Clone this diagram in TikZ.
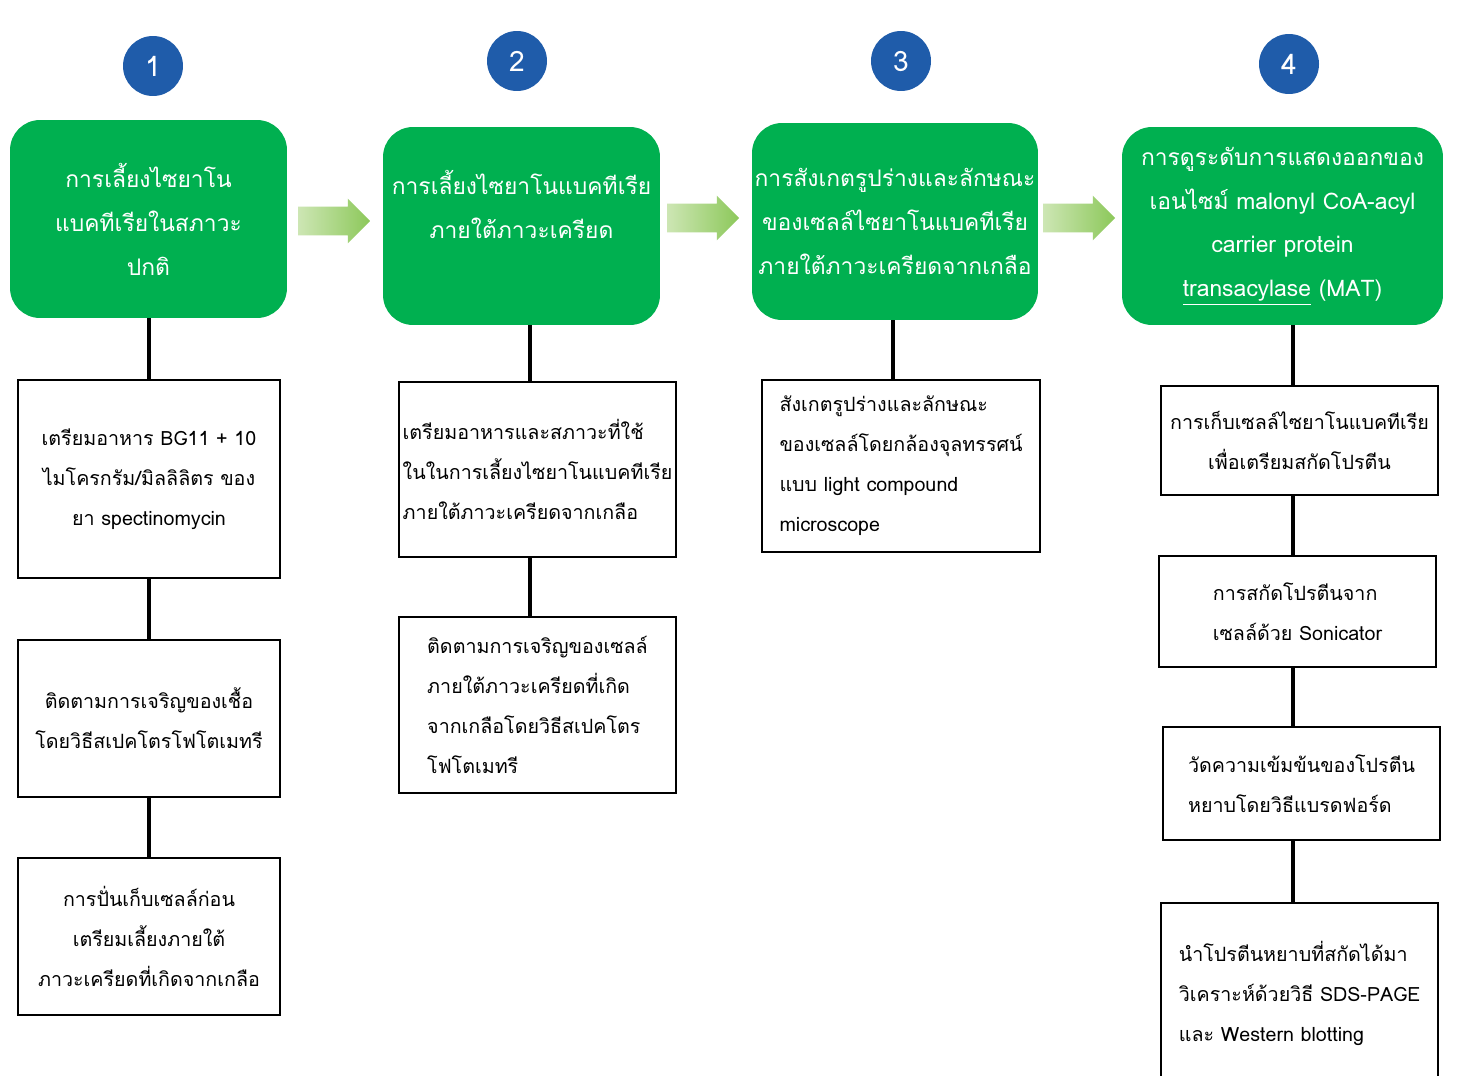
\documentclass[tikz,border=0pt]{standalone}
\usepackage{fontspec}
\setmainfont[Script=Thai]{Loma}
\usetikzlibrary{shapes.arrows}

\definecolor{stepgreen}{RGB}{0,176,80}
\definecolor{numblue}{RGB}{31,92,170}
\definecolor{flowlight}{RGB}{205,230,180}
\definecolor{flowdark}{RGB}{140,200,90}

\tikzset{
  headbox/.style={fill=stepgreen, rounded corners=0.6cm, text=white, align=center,
    inner sep=0pt, font=\fontsize{13}{25}\selectfont},
  taskbox/.style={draw, line width=1pt, align=center, inner sep=2pt,
    font=\fontsize{11.2}{22.8}\selectfont},
  numdot/.style={circle, fill=numblue, text=white, minimum size=1.2cm,
    font=\fontsize{16}{16}\selectfont},
  flow/.style={single arrow, left color=flowlight, right color=flowdark,
    minimum height=1.44cm, inner xsep=0pt, inner ysep=0.28cm,
    single arrow head extend=0.16cm},
  link/.style={line width=2.3pt},
}

\begin{document}
\begin{tikzpicture}[x=0.02cm,y=-0.02cm]

\fill[white] (0,0) rectangle (1459,1075);
\useasboundingbox (0,0) rectangle (1459,1075);

% step numbers
\node[numdot] (N1) at (153,66) {1};
\node[numdot] (N2) at (517,61) {2};
\node[numdot] (N3) at (901,61) {3};
\node[numdot] (N4) at (1289,64) {4};

% main steps
\node[headbox, minimum width=5.54cm, minimum height=3.96cm] (G1) at (148.5,219)
  {การเลี้ยงไซยาโน\\แบคทีเรียในสภาวะ\\ปกติ};
\node[headbox, minimum width=5.54cm, minimum height=3.96cm] (G2) at (521.5,226)
  {การเลี้ยงไซยาโนแบคทีเรีย\\ภายใต้ภาวะเครียด\\\mbox{}};
\node[headbox, minimum width=5.72cm, minimum height=3.94cm] (G3) at (895,221.5)
  {การสังเกตรูปร่างและลักษณะ\\ของเซลล์ไซยาโนแบคทีเรีย\\ภายใต้ภาวะเครียดจากเกลือ};
\node[headbox, minimum width=6.42cm, minimum height=3.96cm] (G4) at (1282.5,226)
  {การดูระดับการแสดงออกของ\\เอนไซม์ malonyl CoA-acyl\\carrier protein\\\underline{transacylase} (MAT)};

\node[flow] (A12) at (327,221) {};
\node[flow] (A23) at (696,218) {};
\node[flow] (A34) at (1072,218) {};

% column 1
\node[taskbox, minimum width=5.24cm, minimum height=3.96cm] (T1a) at (149,479)
  {เตรียมอาหาร BG11 + 10\\ไมโครกรัม/มิลลิลิตร ของ\\ยา spectinomycin};
\node[taskbox, minimum width=5.24cm, minimum height=3.14cm] (T1b) at (149,718.5)
  {ติดตามการเจริญของเชื้อ\\โดยวิธีสเปคโตรโฟโตเมทรี};
\node[taskbox, minimum width=5.24cm, minimum height=3.14cm] (T1c) at (149,936.5)
  {การปั่นเก็บเซลล์ก่อน\\เตรียมเลี้ยงภายใต้\\ภาวะเครียดที่เกิดจากเกลือ};

% column 2
\node[taskbox, align=left, minimum width=5.54cm, minimum height=3.5cm] (T2a) at (537.5,469.5)
  {เตรียมอาหารและสภาวะที่ใช้\\ในในการเลี้ยงไซยาโนแบคทีเรีย\\ภายใต้ภาวะเครียดจากเกลือ};
\node[taskbox, align=left, minimum width=5.54cm, minimum height=3.52cm] (T2b) at (537.5,705)
  {ติดตามการเจริญของเซลล์\\ภายใต้ภาวะเครียดที่เกิด\\จากเกลือโดยวิธีสเปคโตร\\โฟโตเมทรี};

% column 3
\node[taskbox, align=left, minimum width=5.56cm, minimum height=3.44cm] (T3) at (901,466)
  {สังเกตรูปร่างและลักษณะ\\ของเซลล์โดยกล้องจุลทรรศน์\\แบบ light compound\\microscope};

% column 4
\node[taskbox, minimum width=5.54cm, minimum height=2.18cm] (T4a) at (1299.5,440.5)
  {การเก็บเซลล์ไซยาโนแบคทีเรีย\\เพื่อเตรียมสกัดโปรตีน};
\node[taskbox, align=left, minimum width=5.54cm, minimum height=2.22cm] (T4b) at (1297.5,611.5)
  {การสกัดโปรตีนจาก\\เซลล์ด้วย Sonicator};
\node[taskbox, align=left, minimum width=5.54cm, minimum height=2.26cm] (T4c) at (1301.5,783.5)
  {วัดความเข้มข้นของโปรตีน\\หยาบโดยวิธีแบรดฟอร์ด};
\node[taskbox, align=left, minimum width=5.54cm, minimum height=3.6cm] (T4d) at (1299.5,993)
  {นำโปรตีนหยาบที่สกัดได้มา\\วิเคราะห์ด้วยวิธี SDS-PAGE\\และ Western blotting};

% connectors
\draw[link] (T1a.north |- G1.south) -- (T1a.north) (T1a) -- (T1b) (T1b) -- (T1c);
\draw[link] ([xshift=-0.15cm]T2a.north |- G2.south) -- ([xshift=-0.15cm]T2a.north)
  ([xshift=-0.15cm]T2a.south) -- ([xshift=-0.15cm]T2b.north);
\draw[link] ([xshift=-0.16cm]T3.north |- G3.south) -- ([xshift=-0.16cm]T3.north);
\draw[link] ([xshift=-0.13cm]T4a.north |- G4.south) -- ([xshift=-0.13cm]T4a.north)
  ([xshift=-0.13cm]T4a.south) -- ([xshift=-0.13cm]T4a.south |- T4b.north)
  ([xshift=-0.13cm]T4a.south |- T4b.south) -- ([xshift=-0.13cm]T4a.south |- T4c.north)
  ([xshift=-0.13cm]T4a.south |- T4c.south) -- ([xshift=-0.13cm]T4a.south |- T4d.north);

\end{tikzpicture}
\end{document}
